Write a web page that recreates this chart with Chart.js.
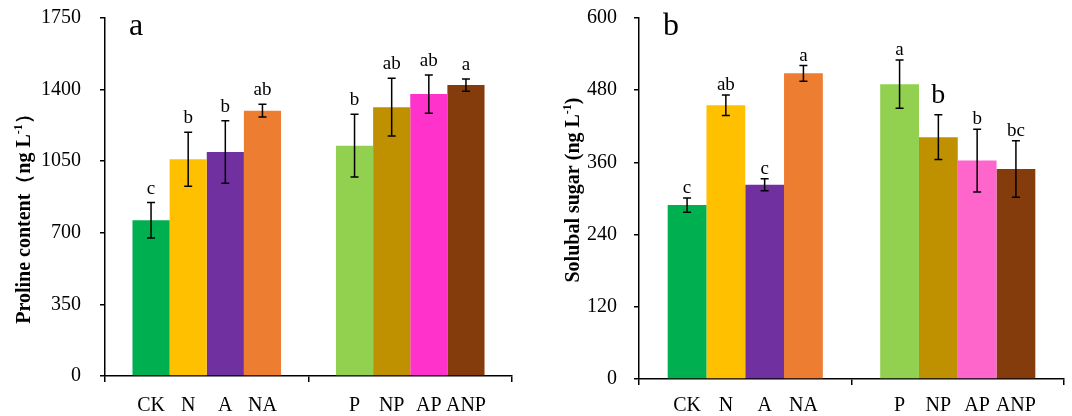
<!DOCTYPE html>
<html>
<head>
<meta charset="utf-8">
<script src="https://cdn.jsdelivr.net/npm/chart.js@4.4.1/dist/chart.umd.min.js"></script>
<style>
  html, body { margin: 0; padding: 0; background: #fff; }
  #wrap { display: flex; width: 1072px; height: 416px; }
  canvas { display: block; }
</style>
</head>
<body>
<div id="wrap">
  <canvas id="chartA" width="536" height="416"></canvas>
  <canvas id="chartB" width="536" height="416"></canvas>
</div>
<script>
// treatments, first group of four then second group of four
const treatments = ['CK', 'N', 'A', 'NA', 'P', 'NP', 'AP', 'ANP'];

// panel a - proline content
const prolineMean = [761, 1060, 1095, 1297, 1126, 1314, 1378, 1422];
const prolineErr = [87, 132, 153, 31, 153, 141, 93, 30];
const prolineLetters = ['c', 'b', 'b', 'ab', 'b', 'ab', 'ab', 'a'];
const prolineTicks = [0, 350, 700, 1050, 1400, 1750];

// panel b - soluble sugar
const sugarMean = [289, 455, 323, 508, 490, 402, 363, 349];
const sugarErr = [12, 17, 10, 13, 40, 37, 52, 47];
const sugarLetters = ['c', 'ab', 'c', 'a', 'a', 'b', 'b', 'bc'];
const sugarTicks = [0, 120, 240, 360, 480, 600];

const colorsA = ['#00b050', '#ffc000', '#7030a0', '#ed7d31', '#92d050', '#bf9000', '#ff33cc', '#843c0c'];
const colorsB = ['#00b050', '#ffc000', '#7030a0', '#ed7d31', '#92d050', '#bf9000', '#ff66cc', '#843c0c'];

const SERIF = '"Liberation Serif", "Times New Roman", serif';

// error bars, significance letters, bar names, panel letter and y title
const decorPlugin = {
  id: 'decor',
  afterDatasetsDraw(chart, args, opts) {
    const ctx = chart.ctx;
    const y = chart.scales.y;
    ctx.save();
    for (let i = 0; i < 4; i++) {
      const meta = chart.getDatasetMeta(i);
      meta.data.forEach((bar, g) => {
        const k = g * 4 + i;
        const top = y.getPixelForValue(opts.mean[k] + opts.err[k]);
        const bot = y.getPixelForValue(opts.mean[k] - opts.err[k]);
        ctx.strokeStyle = '#000';
        ctx.lineWidth = 1.5;
        ctx.beginPath();
        ctx.moveTo(bar.x, top); ctx.lineTo(bar.x, bot);
        ctx.moveTo(bar.x - 4, top); ctx.lineTo(bar.x + 4, top);
        ctx.moveTo(bar.x - 4, bot); ctx.lineTo(bar.x + 4, bot);
        ctx.stroke();

        ctx.fillStyle = '#000';
        ctx.textAlign = 'center';
        ctx.textBaseline = 'alphabetic';
        const big = opts.bigLetter === k;
        ctx.font = (big ? 28 : 19) + 'px ' + SERIF;
        ctx.fillText(opts.letters[k], bar.x, top - (big ? 12 : opts.letterGap));

        ctx.font = '20px ' + SERIF;
        ctx.fillText(treatments[k], bar.x, 411);
      });
    }

    // panel letter
    ctx.font = '32px ' + SERIF;
    ctx.textAlign = 'left';
    ctx.fillText(opts.panel, chart.chartArea.left + 24, 35);

    // rotated y-axis title with superscript
    ctx.translate(opts.titleX, opts.titleY);
    ctx.rotate(-Math.PI / 2);
    ctx.textBaseline = 'middle';
    const main = 'bold 20px ' + SERIF;
    const sup = 'bold 12px ' + SERIF;
    ctx.font = main;
    const w1 = ctx.measureText(opts.title[0]).width;
    const w3 = ctx.measureText(opts.title[2]).width;
    ctx.font = sup;
    const w2 = ctx.measureText(opts.title[1]).width;
    let x = -(w1 + w2 + w3) / 2;
    ctx.textAlign = 'left';
    ctx.font = main;
    ctx.fillText(opts.title[0], x, 0);
    x += w1;
    ctx.font = sup;
    ctx.fillText(opts.title[1], x, -6);
    x += w2;
    ctx.font = main;
    ctx.fillText(opts.title[2], x, 0);
    ctx.restore();
  }
};

function makeChart(id, cfg) {
  const datasets = [];
  for (let i = 0; i < 4; i++) {
    datasets.push({
      label: treatments[i],
      data: [cfg.mean[i], cfg.mean[i + 4]],
      backgroundColor: [cfg.colors[i], cfg.colors[i + 4]],
      borderWidth: 0,
      barPercentage: 1,
      categoryPercentage: 0.73
    });
  }
  return new Chart(document.getElementById(id), {
    type: 'bar',
    data: { labels: ['g1', 'g2'], datasets },
    options: {
      responsive: false,
      animation: false,
      devicePixelRatio: 1,
      layout: { padding: { left: 0, right: cfg.padRight, top: 18, bottom: 0 } },
      plugins: {
        legend: { display: false },
        tooltip: { enabled: false },
        decor: {
          mean: cfg.mean, err: cfg.err, letters: cfg.letters,
          letterGap: cfg.letterGap, bigLetter: cfg.bigLetter,
          panel: cfg.panel, title: cfg.title,
          titleX: cfg.titleX, titleY: cfg.titleY
        }
      },
      scales: {
        x: {
          offset: true,
          grid: { offset: true, drawOnChartArea: false, color: '#000', lineWidth: 1.5, tickLength: 6 },
          border: { color: '#000', width: 1.5 },
          ticks: { display: false },
          afterFit: s => { s.height = cfg.xHeight; s.paddingLeft = 0; s.paddingRight = 0; }
        },
        y: {
          min: 0,
          max: cfg.ticks[cfg.ticks.length - 1],
          afterBuildTicks: s => { s.ticks = cfg.ticks.map(v => ({ value: v })); },
          grid: { drawOnChartArea: false, color: '#000', lineWidth: 1.5, tickLength: 5 },
          border: { color: '#000', width: 1.5 },
          ticks: {
            color: '#000', padding: cfg.tickPad,
            font: { family: SERIF, size: 20 },
            callback: v => String(v)
          },
          afterFit: s => { s.width = cfg.yWidth; s.paddingTop = 0; s.paddingBottom = 0; }
        }
      }
    },
    plugins: [decorPlugin]
  });
}

makeChart('chartA', {
  mean: prolineMean, err: prolineErr, letters: prolineLetters, ticks: prolineTicks,
  colors: colorsA, letterGap: 9, bigLetter: -1,
  panel: 'a', title: ['Proline content（ng L', '-1', '）'], titleX: 25, titleY: 214,
  yWidth: 105, padRight: 24, xHeight: 40, tickPad: 19
});

makeChart('chartB', {
  mean: sugarMean, err: sugarErr, letters: sugarLetters, ticks: sugarTicks,
  colors: colorsB, letterGap: 5, bigLetter: 5,
  panel: 'b', title: ['Solubal sugar (ng L', '-1', ')'], titleX: 38, titleY: 190,
  yWidth: 103, padRight: 8, xHeight: 37, tickPad: 17
});
</script>
</body>
</html>
